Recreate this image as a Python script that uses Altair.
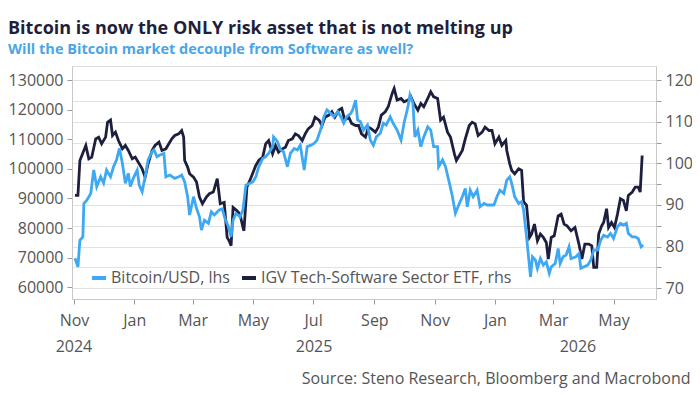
import altair as alt
import pandas as pd

# ---------------- data ----------------
btc_dates = [
    "2024-11-02", "2024-11-05", "2024-11-07", "2024-11-10", "2024-11-11", "2024-11-14", "2024-11-18", "2024-11-21",
    "2024-11-24", "2024-11-28", "2024-12-01", "2024-12-04", "2024-12-08", "2024-12-11", "2024-12-14", "2024-12-17",
    "2024-12-20", "2024-12-23", "2024-12-26", "2024-12-28", "2024-12-31", "2025-01-04", "2025-01-06", "2025-01-09",
    "2025-01-12", "2025-01-15", "2025-01-19", "2025-01-21", "2025-01-24", "2025-01-27", "2025-01-31", "2025-02-02",
    "2025-02-06", "2025-02-11", "2025-02-15", "2025-02-18", "2025-02-21", "2025-02-24", "2025-02-26", "2025-03-02",
    "2025-03-05", "2025-03-08", "2025-03-10", "2025-03-13", "2025-03-17", "2025-03-20", "2025-03-23", "2025-03-28",
    "2025-03-31", "2025-04-03", "2025-04-06", "2025-04-09", "2025-04-11", "2025-04-14", "2025-04-18", "2025-04-21",
    "2025-04-24", "2025-04-28", "2025-05-01", "2025-05-04", "2025-05-07", "2025-05-11", "2025-05-14", "2025-05-17",
    "2025-05-21", "2025-05-22", "2025-05-26", "2025-05-29", "2025-06-01", "2025-06-05", "2025-06-08", "2025-06-12",
    "2025-06-15", "2025-06-18", "2025-06-22", "2025-06-25", "2025-06-29", "2025-07-02", "2025-07-05", "2025-07-09",
    "2025-07-12", "2025-07-15", "2025-07-19", "2025-07-22", "2025-07-26", "2025-07-29", "2025-08-01", "2025-08-04",
    "2025-08-08", "2025-08-10", "2025-08-13", "2025-08-15", "2025-08-18", "2025-08-21", "2025-08-25", "2025-08-28",
    "2025-08-31", "2025-09-03", "2025-09-07", "2025-09-10", "2025-09-13", "2025-09-17", "2025-09-20", "2025-09-24",
    "2025-09-28", "2025-10-01", "2025-10-05", "2025-10-07", "2025-10-10", "2025-10-12", "2025-10-15", "2025-10-18",
    "2025-10-21", "2025-10-25", "2025-10-28", "2025-10-31", "2025-11-04", "2025-11-05", "2025-11-09", "2025-11-12",
    "2025-11-16", "2025-11-19", "2025-11-22", "2025-11-26", "2025-11-29", "2025-12-02", "2025-12-04", "2025-12-07",
    "2025-12-10", "2025-12-14", "2025-12-17", "2025-12-21", "2025-12-24", "2025-12-27", "2025-12-31", "2026-01-03",
    "2026-01-06", "2026-01-10", "2026-01-13", "2026-01-16", "2026-01-18", "2026-01-21", "2026-01-25", "2026-01-28",
    "2026-01-30", "2026-02-02", "2026-02-06", "2026-02-08", "2026-02-11", "2026-02-13", "2026-02-16", "2026-02-19",
    "2026-02-22", "2026-02-25", "2026-02-27", "2026-03-03", "2026-03-06", "2026-03-08", "2026-03-11", "2026-03-14",
    "2026-03-17", "2026-03-19", "2026-03-24", "2026-03-27", "2026-03-29", "2026-04-01", "2026-04-05", "2026-04-08",
    "2026-04-11", "2026-04-15", "2026-04-18", "2026-04-21", "2026-04-25", "2026-04-28", "2026-05-01", "2026-05-05",
    "2026-05-08", "2026-05-11", "2026-05-14", "2026-05-16", "2026-05-20", "2026-05-23", "2026-05-26", "2026-05-29",
    "2026-05-31",
]
btc_values = [
    69800, 66900, 75900, 77000, 88300, 89400, 91700, 99600,
    94000, 97300, 95200, 99600, 97300, 100700, 103000, 106900,
    101900, 95100, 98500, 94000, 96800, 99600, 94500, 92300,
    97300, 103000, 105800, 106400, 104100, 104700, 105200, 97300,
    97900, 96800, 97300, 97900, 95600, 90600, 84400, 90600,
    86700, 83800, 79300, 82700, 81600, 85500, 84400, 86100,
    86500, 83000, 80800, 77000, 82700, 85000, 83800, 86100,
    94500, 95100, 95600, 97300, 100700, 103500, 104100, 105200,
    107500, 110800, 109200, 106400, 105800, 100700, 105200, 106900,
    106400, 108000, 99600, 107500, 108000, 108600, 109700, 113700,
    117600, 119900, 118700, 117600, 119300, 117600, 115400, 117600,
    118700, 119900, 123200, 116500, 115900, 113100, 114800, 109700,
    108000, 110800, 112000, 115400, 114800, 117600, 115400, 113100,
    109700, 115400, 121000, 124900, 122100, 110800, 113100, 107500,
    110800, 114200, 113100, 107500, 107500, 100700, 103000, 100700,
    95100, 90600, 85000, 88300, 90600, 93400, 87200, 92800,
    90600, 92800, 87200, 88300, 87800, 87800, 87800, 90600,
    92800, 91700, 96200, 97300, 95100, 90600, 88300, 88900,
    86100, 77000, 63500, 70300, 69200, 66400, 69700, 67500,
    68600, 64700, 66900, 68000, 73100, 68000, 70300, 70900,
    73700, 69700, 70300, 71400, 66400, 66900, 67500, 69200,
    72600, 72600, 75900, 77600, 77000, 78200, 76500, 80400,
    81600, 81000, 81600, 78200, 77000, 77000, 76500, 73700,
    74300,
]

igv_dates = [
    "2024-11-02", "2024-11-05", "2024-11-07", "2024-11-11", "2024-11-13", "2024-11-16", "2024-11-19", "2024-11-23",
    "2024-11-26", "2024-11-29", "2024-12-03", "2024-12-05", "2024-12-08", "2024-12-10", "2024-12-13", "2024-12-16",
    "2024-12-20", "2024-12-23", "2024-12-26", "2024-12-30", "2025-01-02", "2025-01-06", "2025-01-09", "2025-01-12",
    "2025-01-15", "2025-01-19", "2025-01-22", "2025-01-26", "2025-01-29", "2025-02-02", "2025-02-05", "2025-02-08",
    "2025-02-11", "2025-02-15", "2025-02-18", "2025-02-20", "2025-02-21", "2025-02-24", "2025-02-26", "2025-03-02",
    "2025-03-05", "2025-03-08", "2025-03-11", "2025-03-15", "2025-03-18", "2025-03-22", "2025-03-26", "2025-03-29",
    "2025-04-02", "2025-04-05", "2025-04-07", "2025-04-09", "2025-04-11", "2025-04-15", "2025-04-18", "2025-04-21",
    "2025-04-22", "2025-04-25", "2025-04-28", "2025-05-02", "2025-05-04", "2025-05-07", "2025-05-11", "2025-05-14",
    "2025-05-17", "2025-05-21", "2025-05-24", "2025-05-27", "2025-05-31", "2025-06-03", "2025-06-06", "2025-06-10",
    "2025-06-13", "2025-06-16", "2025-06-20", "2025-06-23", "2025-06-26", "2025-06-30", "2025-07-03", "2025-07-07",
    "2025-07-10", "2025-07-13", "2025-07-17", "2025-07-20", "2025-07-23", "2025-07-27", "2025-07-30", "2025-08-02",
    "2025-08-06", "2025-08-09", "2025-08-13", "2025-08-16", "2025-08-19", "2025-08-23", "2025-08-26", "2025-08-29",
    "2025-09-02", "2025-09-05", "2025-09-08", "2025-09-12", "2025-09-15", "2025-09-19", "2025-09-21", "2025-09-24",
    "2025-09-28", "2025-10-01", "2025-10-05", "2025-10-08", "2025-10-11", "2025-10-15", "2025-10-18", "2025-10-21",
    "2025-10-25", "2025-10-28", "2025-10-31", "2025-11-04", "2025-11-07", "2025-11-10", "2025-11-14", "2025-11-17",
    "2025-11-21", "2025-11-23", "2025-11-26", "2025-11-29", "2025-12-02", "2025-12-06", "2025-12-09", "2025-12-12",
    "2025-12-15", "2025-12-19", "2025-12-22", "2025-12-26", "2025-12-29", "2026-01-01", "2026-01-05", "2026-01-08",
    "2026-01-12", "2026-01-13", "2026-01-16", "2026-01-18", "2026-01-21", "2026-01-25", "2026-01-28", "2026-01-30",
    "2026-02-02", "2026-02-05", "2026-02-07", "2026-02-10", "2026-02-13", "2026-02-16", "2026-02-19", "2026-02-22",
    "2026-02-24", "2026-02-27", "2026-03-02", "2026-03-06", "2026-03-09", "2026-03-12", "2026-03-15", "2026-03-19",
    "2026-03-23", "2026-03-27", "2026-03-30", "2026-04-02", "2026-04-06", "2026-04-09", "2026-04-11", "2026-04-14",
    "2026-04-16", "2026-04-19", "2026-04-21", "2026-04-24", "2026-04-26", "2026-04-29", "2026-05-02", "2026-05-05",
    "2026-05-08", "2026-05-11", "2026-05-14", "2026-05-16", "2026-05-20", "2026-05-23", "2026-05-26", "2026-05-28",
    "2026-05-30",
]
igv_values = [
    92.3, 92.3, 100.7, 103.1, 104.3, 101.1, 101.5, 105.9,
    106.3, 104.7, 106.3, 109.9, 110.4, 106.7, 107.5, 105.5,
    103.5, 104.3, 103.1, 101.1, 101.5, 99.9, 98.7, 96.7,
    99.9, 103.1, 104.3, 105.1, 103.1, 103.5, 104.7, 105.9,
    106.7, 107.1, 107.9, 106.3, 100.7, 99.1, 97.5, 96.7,
    95.5, 91.9, 90.3, 91.9, 92.7, 93.1, 96.3, 90.3,
    90.6, 82.2, 81.4, 80.2, 89.4, 88.6, 87.8, 84.6,
    83.8, 94.3, 95.9, 98.3, 99.5, 100.7, 101.5, 104.7,
    105.5, 102.3, 104.3, 102.7, 103.5, 103.9, 105.5, 105.9,
    107.1, 106.7, 105.5, 107.1, 108.3, 109.1, 111.1, 110.4,
    109.1, 111.1, 111.6, 112.4, 111.1, 112.8, 113.2, 110.4,
    111.1, 109.6, 109.1, 109.1, 107.1, 106.3, 108.7, 108.3,
    107.5, 108.7, 111.6, 112.4, 113.6, 116.8, 118.0, 115.2,
    115.6, 114.8, 115.2, 116.0, 114.4, 112.8, 114.4, 113.6,
    115.6, 117.2, 116.0, 115.6, 110.4, 111.1, 107.5, 106.3,
    102.3, 100.7, 101.9, 103.1, 105.9, 109.1, 109.9, 109.5,
    106.7, 107.5, 108.7, 107.9, 107.9, 104.7, 106.3, 104.3,
    105.5, 103.1, 99.9, 98.3, 97.5, 98.7, 98.3, 90.8,
    89.9, 82.2, 83.0, 85.4, 81.4, 83.0, 82.2, 81.0,
    77.0, 82.2, 82.6, 87.4, 87.8, 85.4, 85.0, 83.8,
    84.6, 80.6, 77.0, 80.6, 80.6, 80.2, 75.0, 75.0,
    83.0, 85.0, 85.8, 89.1, 84.6, 85.8, 84.6, 87.8,
    91.5, 91.1, 88.6, 92.3, 93.1, 94.3, 94.3, 93.1,
    101.9,
]

series_names = ["Bitcoin/USD, lhs", "IGV Tech-Software Sector ETF, rhs"]
series_colors = ["#3ea8f2", "#1d1f3e"]

left_ticks = [60000, 70000, 80000, 90000, 100000, 110000, 120000, 130000]
right_ticks = [70, 75, 80, 85, 90, 95, 100, 105, 110, 115, 120]
month_ticks = [(2024, 11), (2025, 1), (2025, 3), (2025, 5), (2025, 7), (2025, 9),
               (2025, 11), (2026, 1), (2026, 3), (2026, 5)]
year_labels = ["2024", "2025", "2026"]
year_dates = ["2024-11-01", "2025-07-02", "2026-03-26"]

title_text = "Bitcoin is now the ONLY risk asset that is not melting up"
subtitle_text = "Will the Bitcoin market decouple from Software as well?"
source_text = "Source: Steno Research, Bloomberg and Macrobond"

# ---------------- chart ----------------
FONT = "Open Sans"
LABEL_COLOR = "#555555"
AXIS_COLOR = "#c8c8c8"
W, H = 584, 233

btc = pd.DataFrame({"date": btc_dates, "value": btc_values, "series": series_names[0]})
igv = pd.DataFrame({"date": igv_dates, "value": igv_values, "series": series_names[1]})
years = pd.DataFrame({"date": year_dates, "label": year_labels})

x_scale = alt.Scale(domain=[alt.DateTime(year=2024, month=10, date=30),
                            alt.DateTime(year=2026, month=6, date=13)])
x_axis = alt.Axis(
    values=[alt.DateTime(year=y, month=m, date=1) for y, m in month_ticks],
    format="%b", grid=False, labelFontSize=16, labelColor=LABEL_COLOR, labelFont=FONT,
    labelPadding=8, tickSize=5, tickColor="#999999", domainColor=AXIS_COLOR,
    title=source_text, titleFont=FONT, titleFontSize=16, titleFontWeight="normal",
    titleColor=LABEL_COLOR, titleX=618, titleY=84, titleAlign="right",
    titleBaseline="alphabetic", titleAngle=0,
)
x_enc = alt.X("date:T", scale=x_scale, axis=x_axis)

color_enc = alt.Color(
    "series:N",
    scale=alt.Scale(domain=series_names, range=series_colors),
    legend=alt.Legend(
        title=None, orient="none", legendX=18, legendY=203, direction="horizontal",
        symbolType="stroke", symbolSize=196, symbolStrokeWidth=4, labelFontSize=16,
        labelFont=FONT, labelColor=LABEL_COLOR, labelOffset=3, columnPadding=4,
        labelLimit=400,
    ),
)

igv_line = alt.Chart(igv).mark_line(strokeWidth=2.8, interpolate="linear").encode(
    x=x_enc,
    y=alt.Y("value:Q",
            scale=alt.Scale(domain=[67.4, 123.4], nice=False, zero=False),
            axis=alt.Axis(orient="right", values=right_ticks,
                          labelExpr="datum.value % 10 == 0 ? datum.label : ''",
                          grid=True, gridColor="#e2e2e2", gridWidth=1,
                          labelFontSize=16, labelColor=LABEL_COLOR, labelFont=FONT,
                          tickSize=5, tickColor="#999999", domainColor=AXIS_COLOR,
                          labelPadding=4, title=None)),
    color=color_enc,
)

btc_line = alt.Chart(btc).mark_line(strokeWidth=2.8, interpolate="linear").encode(
    x=x_enc,
    y=alt.Y("value:Q",
            scale=alt.Scale(domain=[56050, 134730], nice=False, zero=False),
            axis=alt.Axis(orient="left", values=left_ticks, format="d", grid=False,
                          labelFontSize=16, labelColor=LABEL_COLOR, labelFont=FONT,
                          tickSize=5, tickColor="#999999", domainColor=AXIS_COLOR,
                          labelPadding=4, title=None)),
    color=color_enc,
)

year_text = alt.Chart(years).mark_text(
    fontSize=16, font=FONT, color=LABEL_COLOR, baseline="middle", align="center"
).encode(
    x=x_enc,
    y=alt.value(H + 48),
    text="label:N",
)

chart = (
    alt.layer(igv_line, btc_line, year_text)
    .resolve_scale(y="independent")
    .properties(
        width=W, height=H,
        autosize=alt.AutoSizeParams(type="none"),
        padding={"left": 64, "top": 58, "right": 36, "bottom": 93},
        title=alt.TitleParams(
            text=title_text, subtitle=subtitle_text, anchor="start", frame="group",
            dx=-64, offset=10, font=FONT, fontSize=18, fontWeight="bold", color="#1e1f3b",
            subtitleFont=FONT, subtitleFontSize=14.5, subtitleFontWeight="bold",
            subtitleColor="#4aa6e6", subtitlePadding=5,
        ),
    )
    .configure_view(strokeWidth=0)
    .configure(background="white")
)

chart.save("out.html", embed_options={"renderer": "svg", "actions": False})
